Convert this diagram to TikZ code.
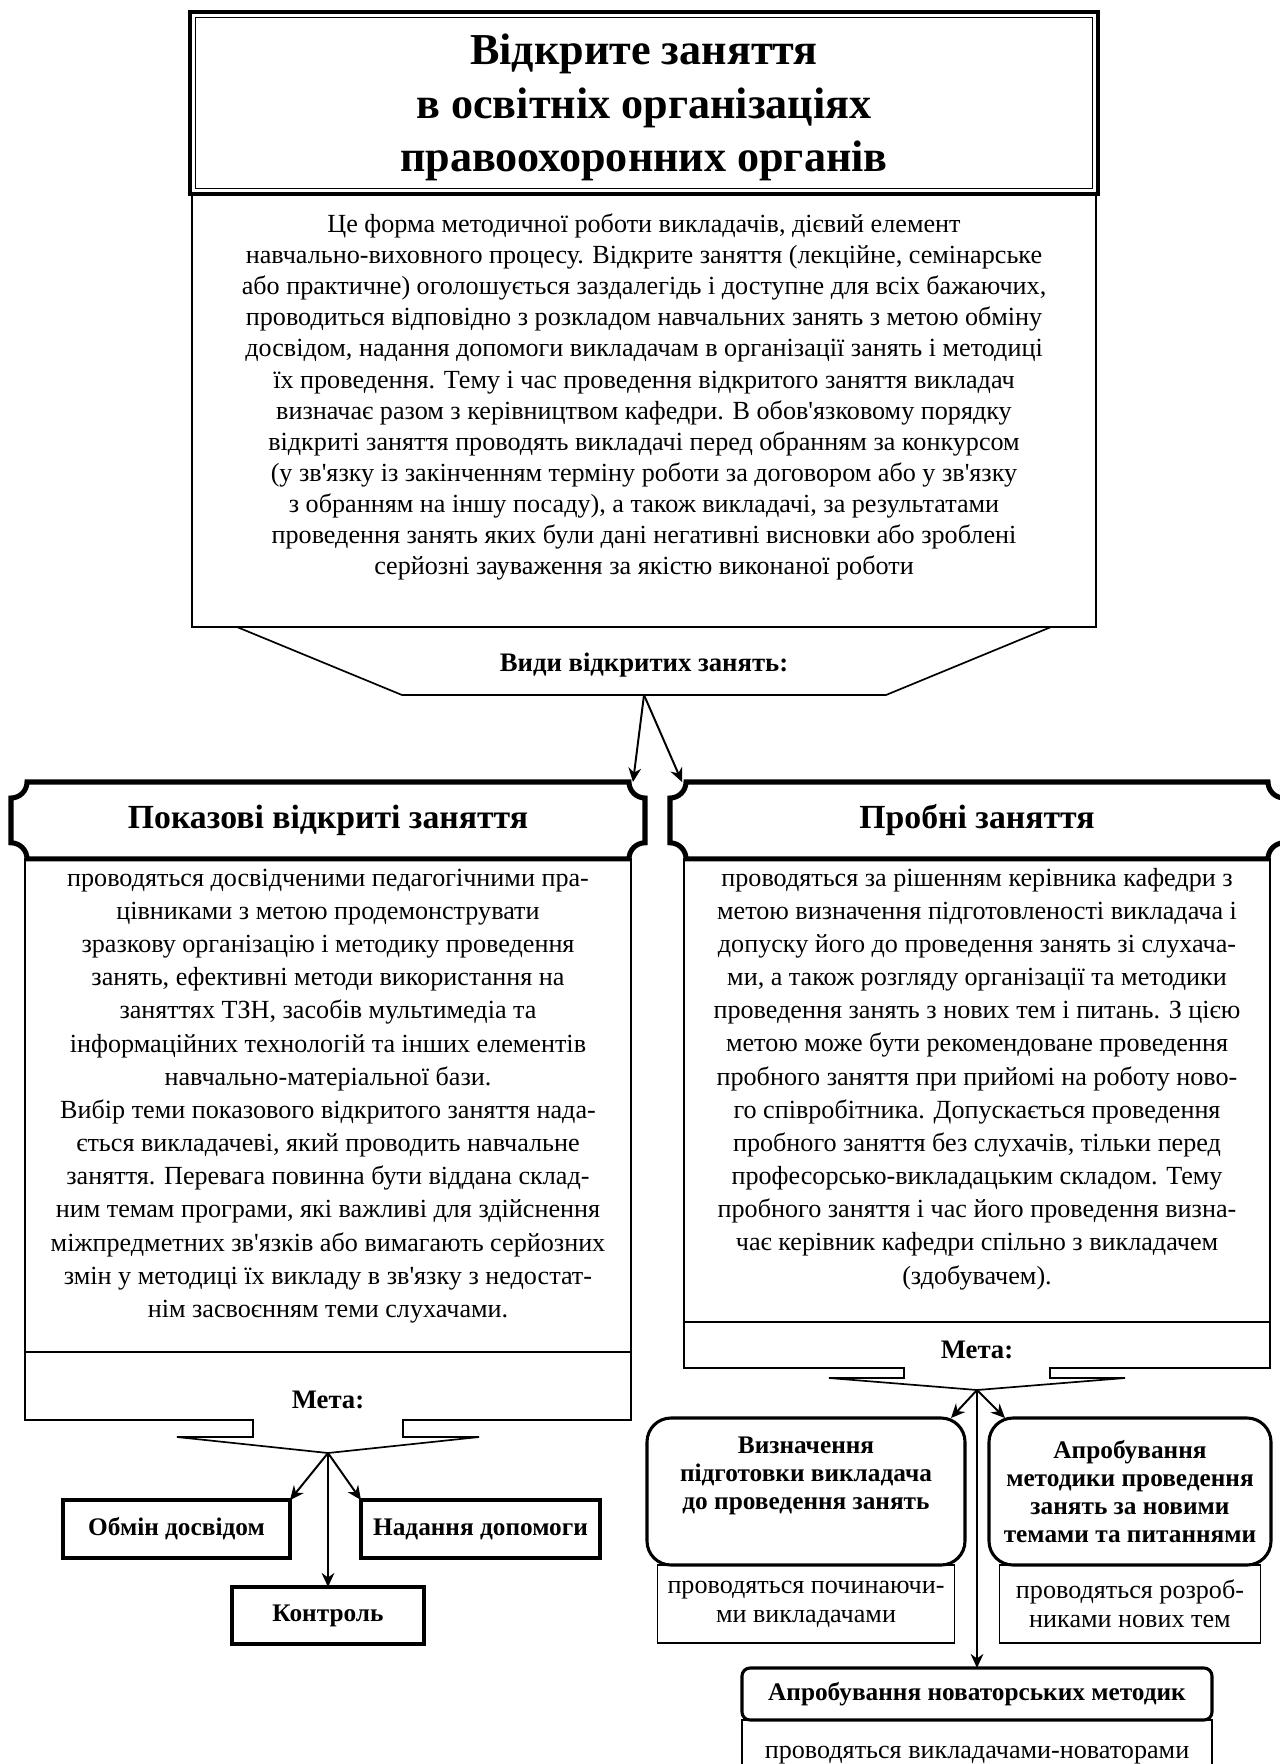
\documentclass[tikz,border=0pt]{standalone}
\usepackage{fontspec}
\setmainfont{Liberation Serif}[Ligatures=TeXOff]
\usepackage{tikz}
\usetikzlibrary{arrows.meta, positioning, calc}
\tikzstyle{thinline} = [draw=black, line width=0.6pt]
\tikzstyle{boxframe} = [rectangle, draw=black, line width=0.6pt, inner sep=0pt, outer sep=0pt]
\tikzstyle{blank} = [rectangle, inner sep=0pt, outer sep=0pt]
\tikzstyle{titletxt} = [align=center, inner sep=0pt, font=\fontsize{15.7}{19}\selectfont\bfseries]
\tikzstyle{bodytxt} = [align=center, inner sep=0pt, font=\fontsize{9.3}{11.8}\selectfont]
\tikzstyle{desctxt} = [align=center, inner sep=0pt, font=\fontsize{9.3}{11.05}\selectfont]
\tikzstyle{headtxt} = [rectangle, inner sep=0pt, outer sep=0pt, font=\fontsize{12}{14}\selectfont\bfseries]
\tikzstyle{goaltxt} = [inner sep=0pt, font=\fontsize{9.5}{11}\selectfont\bfseries]
\tikzstyle{smallbox} = [rectangle, draw=black, line width=1.1pt, inner sep=0pt, outer sep=0pt, font=\fontsize{9}{10}\selectfont\bfseries]
\tikzstyle{roundbox} = [rectangle, rounded corners=0.3cm, draw=black, line width=1.1pt, align=center, inner sep=0pt, outer sep=0pt, font=\fontsize{9}{9.95}\selectfont\bfseries]
\tikzstyle{subbox} = [rectangle, draw=black, line width=0.6pt, align=center, inner sep=0pt, outer sep=0pt, font=\fontsize{9.3}{10.3}\selectfont]
\tikzstyle{plaqueline} = [draw=black, line width=1.8pt]
\tikzstyle{arr} = [-{Stealth[length=5pt, width=4.5pt]}, line width=0.7pt]
% plaque outline with concave corners round a node
\newcommand{\drawplaque}[1]{%
  \draw[plaqueline] ($(#1.north west)+(0.2,0)$) -- ($(#1.north east)+(-0.2,0)$)
    .. controls +(0,-0.11) and +(-0.11,0) .. ($(#1.north east)+(0,-0.2)$)
    -- ($(#1.south east)+(0,0.2)$)
    .. controls +(-0.11,0) and +(0,0.11) .. ($(#1.south east)+(-0.2,0)$)
    -- ($(#1.south west)+(0.2,0)$)
    .. controls +(0,0.11) and +(0.11,0) .. ($(#1.south west)+(0,0.2)$)
    -- ($(#1.north west)+(0,-0.2)$)
    .. controls +(0.11,0) and +(0,-0.11) .. ($(#1.north west)+(0.2,0)$) -- cycle;}

\begin{document}
\begin{tikzpicture}
  \useasboundingbox (0,0) rectangle (15.9875,-22.05);
  % Title block
  \node[boxframe, line width=1.2pt, minimum width=11.35cm, minimum height=2.275cm] (title) at (8.05,-1.2875) {};
  \draw[thinline] ($(title.north west)+(0.07,-0.07)$) rectangle ($(title.south east)+(-0.07,0.07)$);
  \node[titletxt] (titletext) at ($(title)+(0,-0.055)$) {Відкрите заняття\\в освітніх організаціях\\правоохоронних органів};
  \node[boxframe, minimum width=11.3cm, minimum height=5.4125cm, below=0cm of title] (desc) {};
  \node[desctxt] (desctext) at ($(desc.north)+(0,-2.5375)$) {Це форма методичної роботи викладачів, дієвий елемент\\
    навчально-виховного процесу. Відкрите заняття (лекційне, семінарське\\
    або практичне) оголошується заздалегідь і доступне для всіх бажаючих,\\
    проводиться відповідно з розкладом навчальних занять з метою обміну\\
    досвідом, надання допомоги викладачам в організації занять і методиці\\
    їх проведення. Тему і час проведення відкритого заняття викладач\\
    визначає разом з керівництвом кафедри. В обов'язковому порядку\\
    відкриті заняття проводять викладачі перед обранням за конкурсом\\
    (у зв'язку із закінченням терміну роботи за договором або у зв'язку\\
    з обранням на іншу посаду), а також викладачі, за результатами\\
    проведення занять яких були дані негативні висновки або зроблені\\
    серйозні зауваження за якістю виконаної роботи};
  \draw[thinline] ($(desc.south)+(-5.0875,0)$) -- ($(desc.south)+(-3.025,-0.85)$)
    -- ($(desc.south)+(3.025,-0.85)$) -- ($(desc.south)+(5.0875,0)$);
  \node[goaltxt] (kinds) at ($(desc.south)+(0,-0.475)$) {Види відкритих занять:};
  \coordinate (kindsend) at ($(desc.south)+(0,-0.85)$);
  % Headings
  \node[headtxt, minimum width=7.925cm, minimum height=0.96cm] (showhead) at (4.1,-10.255) {Показові відкриті заняття};
  \node[headtxt, minimum width=7.675cm, minimum height=0.96cm] (trialhead) at (12.2125,-10.255) {Пробні заняття};
  \drawplaque{showhead}
  \drawplaque{trialhead}
  \draw[arr] (kindsend) -- ([xshift=-0.15cm]showhead.north east);
  \draw[arr] (kindsend) -- ([xshift=0.15cm]trialhead.north west);
  % Left column
  \node[boxframe, minimum width=7.575cm, minimum height=6.165cm, below=0cm of showhead] (showbody) {};
  \node[bodytxt] (showtext) at ($(showbody.north)+(0,-2.965)$) {проводяться досвідченими педагогічними пра-\\
    цівниками з метою продемонструвати\\
    зразкову організацію і методику проведення\\
    занять, ефективні методи використання на\\
    заняттях ТЗН, засобів мультимедіа та\\
    інформаційних технологій та інших елементів\\
    навчально-матеріальної бази.\\
    Вибір теми показового відкритого заняття нада-\\
    ється викладачеві, який проводить навчальне\\
    заняття. Перевага повинна бути віддана склад-\\
    ним темам програми, які важливі для здійснення\\
    міжпредметних зв'язків або вимагають серйозних\\
    змін у методиці їх викладу в зв'язку з недостат-\\
    нім засвоєнням теми слухачами.};
  \node[blank, minimum width=7.575cm, minimum height=0.85cm, below=0cm of showbody] (showgoal) {};
  \node[goaltxt] (showgoaltext) at ($(showgoal)+(0,-0.175)$) {Мета:};
  \coordinate (showtip) at ($(showgoal.south)+(0,-0.4125)$);
  \draw[thinline] (showgoal.north west) |- ($(showgoal.south)+(-0.9375,0)$) -- ++(0,-0.2125) -- ++(-0.95,0)
    -- (showtip) -- ($(showgoal.south)+(1.8875,-0.2125)$) -- ++(-0.95,0) -- ++(0,0.2125) -| (showgoal.north east);
  \node[smallbox, minimum width=2.8375cm, minimum height=0.725cm] (exch) at (2.20625,-19.1125) {Обмін досвідом};
  \node[smallbox, minimum width=2.9875cm, minimum height=0.725cm] (help) at (6.00625,-19.1125) {Надання допомоги};
  \node[smallbox, minimum width=2.4cm, minimum height=0.7125cm] (ctrl) at (4.1,-20.19375) {Контроль};
  \draw[arr] (showtip) -- (exch.north east);
  \draw[arr] (showtip) -- (help.north west);
  \draw[arr] (showtip) -- (ctrl.north);
  % Right column
  \node[boxframe, minimum width=7.325cm, minimum height=5.79cm, below=0cm of trialhead] (trialbody) {};
  \node[bodytxt] (trialtext) at ($(trialbody.north)+(0,-2.75)$) {проводяться за рішенням керівника кафедри з\\
    метою визначення підготовленості викладача і\\
    допуску його до проведення занять зі слухача-\\
    ми, а також розгляду організації та методики\\
    проведення занять з нових тем і питань. З цією\\
    метою може бути рекомендоване проведення\\
    пробного заняття при прийомі на роботу ново-\\
    го співробітника. Допускається проведення\\
    пробного заняття без слухачів, тільки перед\\
    професорсько-викладацьким складом. Тему\\
    пробного заняття і час його проведення визна-\\
    чає керівник кафедри спільно з викладачем\\
    (здобувачем).};
  \node[blank, minimum width=7.325cm, minimum height=0.575cm, below=0cm of trialbody] (trialgoal) {};
  \node[goaltxt] (trialgoaltext) at ($(trialgoal)+(0,-0.0625)$) {Мета:};
  \coordinate (trialtip) at ($(trialgoal.south)+(0,-0.275)$);
  \draw[thinline] (trialgoal.north west) |- ($(trialgoal.south)+(-0.9125,0)$) -- ++(0,-0.125) -- ++(-0.9375,0)
    -- (trialtip) -- ($(trialgoal.south)+(1.85,-0.125)$) -- ++(-0.9375,0) -- ++(0,0.125) -| (trialgoal.north east);
  \node[roundbox, minimum width=3.975cm, minimum height=1.8375cm] (prep) at (10.075,-18.64375) {Визначення\\підготовки викладача\\до проведення занять\\\strut};
  \node[roundbox, minimum width=3.525cm, minimum height=1.8375cm] (newmeth) at (14.125,-18.64375) {Апробування\\методики проведення\\занять за новими\\темами та питаннями};
  \node[subbox, minimum width=3.7125cm, minimum height=0.975cm, below=0cm of prep] (prepsub) {проводяться починаючи-\\ми викладачами};
  \node[subbox, minimum width=3.2625cm, minimum height=0.975cm, below=0cm of newmeth] (newsub) {проводяться розроб-\\никами нових тем};
  \node[roundbox, rounded corners=0.1cm, minimum width=5.875cm, minimum height=0.65cm] (innov) at (12.2125,-21.175) {Апробування новаторських методик};
  \node[subbox, minimum width=5.875cm, minimum height=0.875cm, below=0cm of innov] (innovsub) {проводяться викладачами-новаторами};
  \draw[arr] (trialtip) -- ([xshift=-0.175cm]prep.north east);
  \draw[arr] (trialtip) -- ([xshift=0.2cm]newmeth.north west);
  \draw[arr] (trialtip) -- (innov.north);
\end{tikzpicture}
\end{document}
